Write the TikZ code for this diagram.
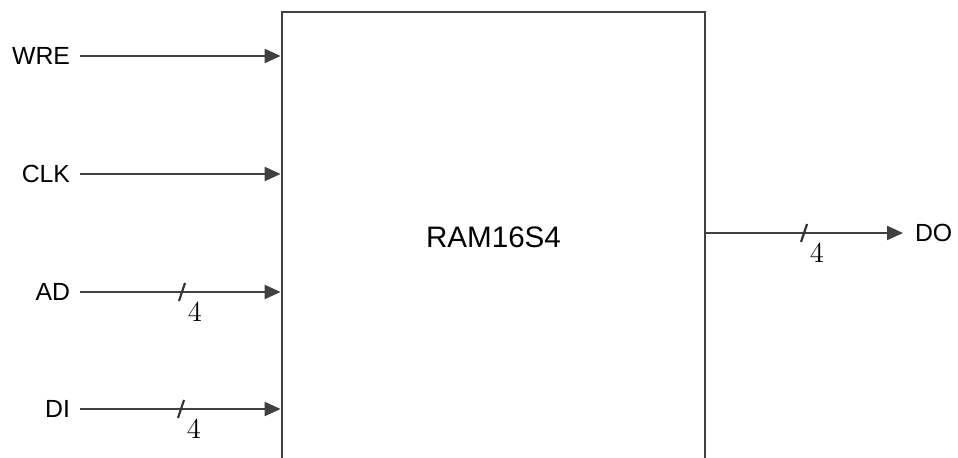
\documentclass[tikz,border=0pt]{standalone}
\usepackage{fontspec}
\setsansfont{Liberation Sans}
\usetikzlibrary{arrows.meta}

\begin{document}
\begin{tikzpicture}[x=0.5pt,y=-0.5pt,
    sig/.style={draw=black!75, line width=1.1pt, -{Triangle[length=8pt,width=7pt]}},
    pin/.style={font=\sffamily\fontsize{12.4}{14}\selectfont, inner sep=0pt, outer sep=5pt},
    tick/.style={draw=black!80, line width=1.1pt},
    buswidth/.style={font=\fontsize{14.5}{16}\selectfont, inner sep=0pt}]
    \useasboundingbox (0,0) rectangle (958,458);
    \clip (0,0) rectangle (958,458);

    % memory block (runs past the lower edge)
    \node[draw=black!75, line width=1.4pt, minimum width=211.5pt, minimum height=225.5pt,
      font=\sffamily\fontsize{14.8}{17}\selectfont] (ram) at (493.5,237.5) {RAM16S4};

    % inputs
    \foreach \name/\y in {WRE/56,CLK/174,AD/292,DI/409}
    {
      \node[pin, anchor=east] (\name) at (80,\y) {\name};
      \draw[sig] (\name.east) -- (\name.east -| ram.west);
    }

    % output
    \node[pin, anchor=west, outer sep=6pt] (DO) at (903,233) {DO};
    \draw[sig] (ram.east |- DO.west) -- (DO.west);

    % bus width marks
    \foreach \name/\x in {AD/182,DI/181,DO/804}
    {
      \coordinate (\name-t) at (\x,0 |- \name.east);
      \draw[tick] ([shift={(-3,9)}]\name-t) -- ([shift={(3,-9)}]\name-t);
      \node[buswidth] (\name-n) at ([shift={(13,20.5)}]\name-t) {$4$};
    }
\end{tikzpicture}
\end{document}
